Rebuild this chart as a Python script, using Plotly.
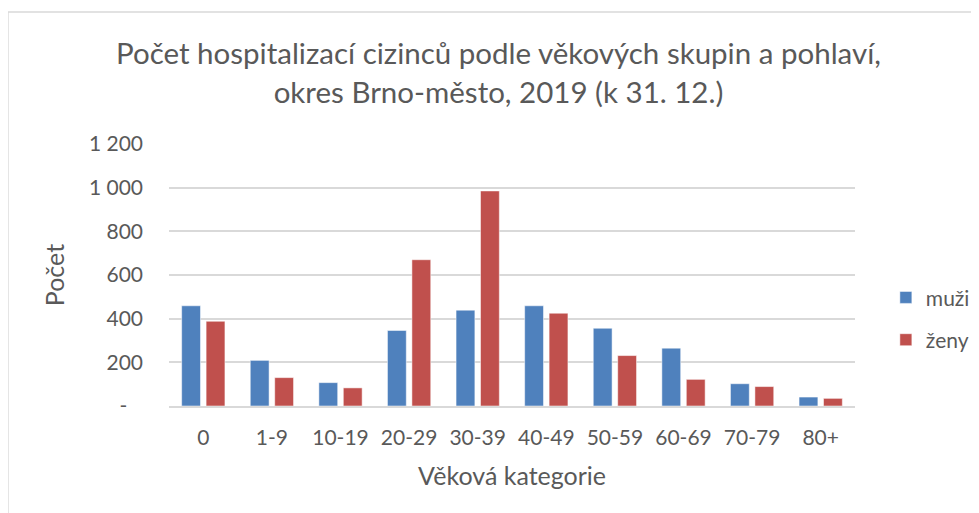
import plotly.graph_objects as go

categories = ["0", "1-9", "10-19", "20-29", "30-39", "40-49", "50-59", "60-69", "70-79", "80+"]
muzi = [459, 209, 107, 346, 439, 459, 356, 265, 102, 41]
zeny = [388, 130, 83, 670, 985, 425, 231, 122, 89, 35]
tick_vals = [0, 200, 400, 600, 800, 1000, 1200]
tick_text = ["-\u2002\u2005", "200", "400", "600", "800", "1 000", "1 200"]

FONT = "Lato"
TXT = "#595959"
GRID = "#D9D9D9"

fig = go.Figure()
fig.add_trace(go.Bar(x=categories, y=muzi, name="muži", legendgroup="m",
                     marker=dict(color="#4F81BD", line=dict(color="rgba(255,255,255,0.5)", width=1))))
fig.add_trace(go.Bar(x=categories, y=zeny, name="ženy", legendgroup="z",
                     marker=dict(color="#C0504D", line=dict(color="rgba(255,255,255,0.5)", width=1))))

fig.update_layout(
    width=979, height=513,
    margin=dict(l=161, r=120, t=136, b=115),
    paper_bgcolor="white", plot_bgcolor="white",
    font=dict(family=FONT, color=TXT, size=21),
    barmode="group", bargap=0.287, bargroupgap=0.23,
    title=dict(text="Počet hospitalizací cizinců podle věkových skupin a pohlaví,<br>okres Brno-město, 2019 (k 31. 12.)",
               x=0.501, xanchor="center", y=0.890, yanchor="middle", yref="container",
               font=dict(family=FONT, size=29.5, color=TXT)),
    legend=dict(x=1.045, xanchor="left", y=0.333, yanchor="middle",
                font=dict(family=FONT, size=21, color=TXT),
                tracegroupgap=12, itemwidth=30, bgcolor="rgba(0,0,0,0)"),
    xaxis=dict(title=dict(text="Věková kategorie", font=dict(size=25, color=TXT), standoff=20),
               showgrid=False, showline=True, linecolor=GRID, linewidth=1.5,
               ticks="", ticklabelstandoff=12, tickfont=dict(size=21, color=TXT)),
    yaxis=dict(title=dict(text="Počet", font=dict(size=25, color=TXT), standoff=17),
               range=[0, 1200], tickvals=tick_vals, ticktext=tick_text,
               showgrid=True, gridcolor=GRID, gridwidth=1.5, zeroline=False,
               ticks="", ticklabelstandoff=25, tickfont=dict(size=21, color=TXT)),
    shapes=[dict(type="rect", xref="paper", yref="paper",
                 x0=-0.2348, x1=1.3, y0=-0.6, y1=1.5038,
                 line=dict(color="#D9D9D9", width=1.5), fillcolor="rgba(0,0,0,0)", layer="below")],
)

fig.write_html("out.html")
